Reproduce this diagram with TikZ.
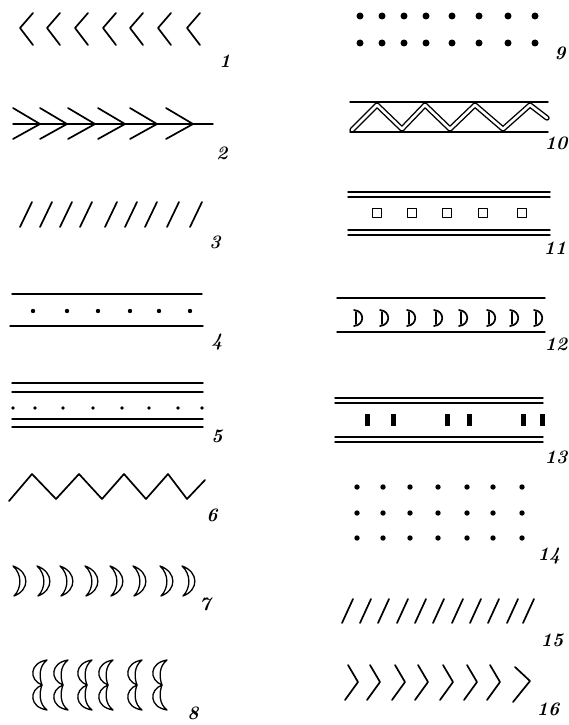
\documentclass[tikz,border=0pt]{standalone}
\usepackage{tikz}
\usetikzlibrary{calc}

\begin{document}
\begin{tikzpicture}[x=1pt,y=-1pt,line cap=round,line join=round,
    stroke/.style={line width=1.7pt},
    rule/.style={line width=1.4pt},
    hollow/.style={line width=1.3pt,fill=white},
    num/.style={font=\fontsize{19}{19}\selectfont\bfseries\itshape,inner sep=0pt}]
  \useasboundingbox (0,0) rectangle (569,725);
  % left column
  \foreach \x in {20,47,75,103,130,158,187}
    \draw[stroke] (\x+13,13) -- (\x,28) -- (\x+13,45);
  \node[num] (l1) at (225,61) {1};
  \draw[rule] (13,124) -- (213,124);
  \foreach \x in {40,67,95,125,157,193}
    \draw[stroke] (\x-27,108) -- (\x,124) -- (\x-27,139);
  \node[num] (l2) at (222,153) {2};
  \foreach \x in {20,40,60,80,105,125,145,167,190}
    \draw[stroke] (\x,227) -- (\x+12,202);
  \node[num] (l3) at (215,242) {3};
  \draw[rule] (12,294) -- (202,294) (10,326) -- (203,326);
  \foreach \x in {33,67,98,130,159,190}
    \fill (\x,311) circle (2.2);
  \node[num] (l4) at (217,342) {4};
  \foreach \y in {383,392,419,427}
    \draw[rule] (12,\y) -- (203,\y);
  \foreach \x in {13,35,63,93,122,149,178,202}
    \fill (\x,408) circle (1.9);
  \node[num] (l5) at (217,436) {5};
  \draw[stroke] (9,501) -- (32,474) -- (56,499) -- (79,474) -- (102,499) -- (124,474)
    -- (146,499) -- (168,474) -- (187,499) -- (205,480);
  \node[num] (l6) at (212,515) {6};
  \foreach \x in {18,42,65,90,115,138,165,187}
    \draw[hollow,shift={(\x,581)}] (-5,-15) .. controls (12,-9) and (12,9) .. (-4,15)
      .. controls (4,7) and (4,-7) .. cycle;
  \node[num] (l7) at (205,604) {7};
  \foreach \x in {42,63,87,108,137,162} {
    \draw[hollow,shift={(\x,685)}] (5,-25) .. controls (-13,-22) and (-13,-5) .. (0,0)
      .. controls (-3,-8) and (-3,-19) .. cycle;
    \draw[hollow,shift={(\x,685)}] (0,0) .. controls (-13,5) and (-13,22) .. (5,25)
      .. controls (-3,19) and (-3,8) .. cycle;
  }
  \node[num] (l8) at (193,713) {8};
  % right column
  \foreach \y in {16,43}
    \foreach \x in {360,382,404,426,452,479,508,535}
      \fill (\x,\y) circle (3.5);
  \node[num] (l9) at (560,53) {9};
  \draw[rule] (350,102) -- (548,102) (350,132) -- (548,132);
  \draw[line width=1.4pt,double,double distance=2.6pt] (352,130) -- (377,105) -- (402,129)
    -- (425,105) -- (450,129) -- (475,105) -- (503,129) -- (530,105) -- (547,118);
  \node[num] (l10) at (556,143) {10};
  \foreach \y in {192,197,230,235}
    \draw[rule] (348,\y) -- (550,\y);
  \foreach \x in {377,412,447,483,522}
    \draw[line width=1.7pt] (\x-4.5,208.5) rectangle (\x+4.5,217.5);
  \node[num] (l11) at (555,248) {11};
  \draw[rule] (337,298) -- (545,298) (337,332) -- (545,332);
  \foreach \x in {357,383,410,437,462,490,513,537} {
    \draw[line width=1.7pt,shift={(\x,318)}] (-3,-8) .. controls (8,-7) and (8,7) .. (-3,8);
    \draw[line width=1.7pt,shift={(\x,318)}] (-1,-6) -- (-1,6);
  }
  \node[num] (l12) at (556,344) {12};
  \foreach \y in {398,403,437,442}
    \draw[rule] (335,\y) -- (543,\y);
  \foreach \x in {367,393,447,469,523,542}
    \fill (\x-2.5,414) rectangle (\x+2.5,426);
  \node[num] (l13) at (556,457) {13};
  \foreach \y in {487,513,538}
    \foreach \x in {357,383,410,438,467,493,522}
      \fill (\x,\y) circle (2.7);
  \node[num] (l14) at (549,556) {14};
  \foreach \x in {342,360,378,397,415,433,452,470,488,507,523}
    \draw[stroke] (\x,623) -- (\x+11,599);
  \node[num] (l15) at (552,640) {15};
  \foreach \x in {348,370,395,418,443,467,490}
    \draw[stroke] (\x,665) -- (\x+10,682) -- (\x-3,700);
  \draw[stroke] (515,667) -- (530,681) -- (513,702);
  \node[num] (l16) at (548,709) {16};
\end{tikzpicture}
\end{document}
